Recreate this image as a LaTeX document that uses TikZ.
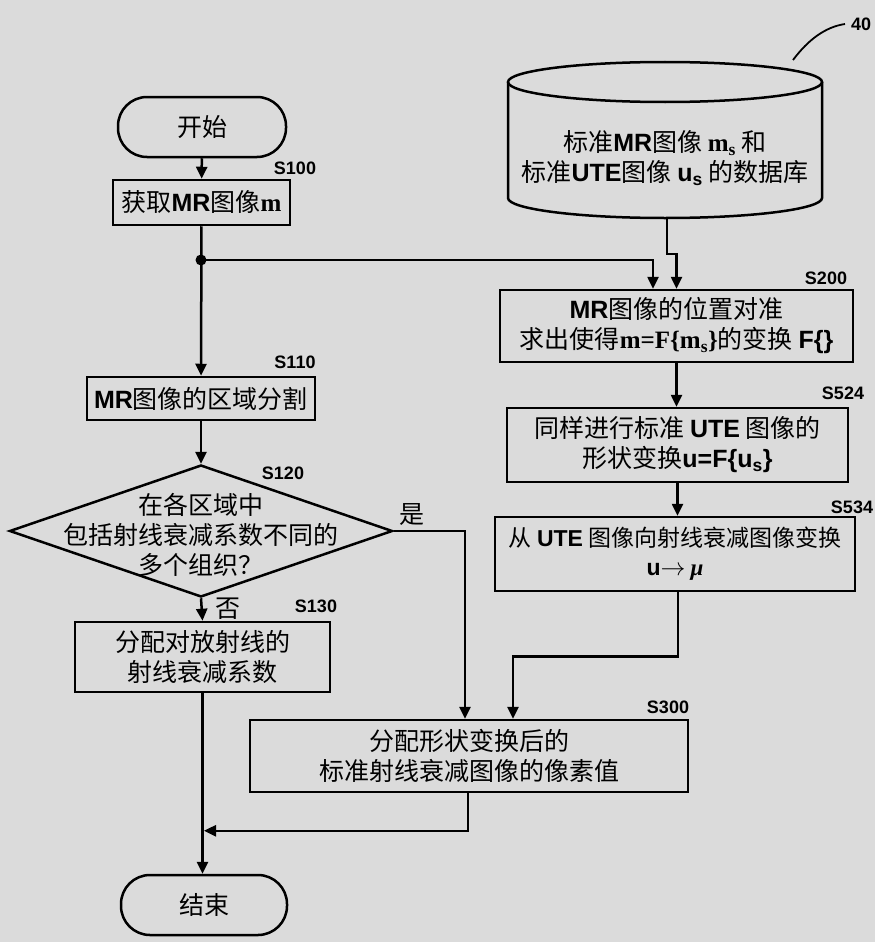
\documentclass[tikz,border=0pt]{standalone}
\usepackage{fontspec}
\setmainfont{Noto Sans CJK SC}
\newfontfamily\lsans{Liberation Sans}
\newfontfamily\lserif{Liberation Serif}
\usetikzlibrary{shapes.geometric,arrows.meta,calc}
\newcommand\B[1]{{\lsans\bfseries #1}}
\newcommand\SB[1]{{\lserif\bfseries #1}}
\begin{document}
\begin{tikzpicture}[x=1pt,y=-1pt, line width=2.5pt,
  txt/.style={align=center, inner sep=0pt, font=\fontsize{25}{30}\selectfont},
  box/.style={txt, draw, rectangle},
  term/.style={txt, draw, rectangle, rounded corners=29pt},
  arr/.style={-{Triangle[length=12pt,width=11pt]}},
  lab/.style={inner sep=0pt, font=\lsans\bfseries\fontsize{18}{18}\selectfont}]
\fill[black!14] (0,0) rectangle (875,942);
\useasboundingbox (0,0) rectangle (875,942);

% left column
\node[term, minimum width=168pt, minimum height=60pt] (start) at (202,127) {开始};
\node[box, minimum width=177pt, minimum height=45pt] (s100) at (201.5,202.5) {获取\B{MR}图像\SB{m}};
\node[box, minimum width=228pt, minimum height=43pt] (s110) at (201,398.5) {\B{MR}图像的区域分割};
\node[draw, diamond, minimum width=383pt, minimum height=132pt, inner sep=0pt] (d) at (201,531) {};
\node[txt] (dt) at (201,535) {在各区域中\\包括射线衰减系数不同的\\多个组织？};
\node[box, minimum width=255pt, minimum height=70pt] (s130) at (202.5,657) {分配对放射线的\\射线衰减系数};
\node[term, minimum width=166pt, minimum height=60pt] (end) at (204,905) {结束};

% database
\draw (665,82) ellipse [x radius=157, y radius=20];
\draw (508,82) -- (508,198) arc[start angle=180, end angle=0, x radius=157, y radius=20] -- (822,82);
\node[txt] (db) at (665,158) {标准\B{MR}图像 \SB{m\textsubscript{s}} 和\\标准\B{UTE}图像 \B{u\textsubscript{s}} 的数据库};
\coordinate (dbb) at (667,218);
\draw[line width=1.8pt] (793,60) .. controls (808,40) and (825,27) .. (845,24);
\node[lab] (n40) at (861,24) {40};

% right column
\node[box, minimum width=353pt, minimum height=72pt] (s200) at (676.5,326) {\B{MR}图像的位置对准\\求出使得\SB{m=F\{m\textsubscript{s}\}}的变换 \B{F\{\}}};
\node[box, minimum width=341pt, minimum height=74pt] (s524) at (677.5,445) {同样进行标准 \B{UTE} 图像的\\形状变换\B{u=F\{u\textsubscript{s}\}}};
\node[box, minimum width=360pt, minimum height=74pt, font=\fontsize{23}{29}\selectfont] (s534) at (675,554) {从 \B{UTE} 图像向射线衰减图像变换\\\B{u}$\rightarrow$ {\lserif\bfseries\itshape μ}};
\node[box, minimum width=438pt, minimum height=72pt] (s300) at (469,756) {分配形状变换后的\\标准射线衰减图像的像素值};

% step labels
\node[lab] at (295,168) {S100};
\node[lab] at (295,362) {S110};
\node[lab] at (283,473) {S120};
\node[lab] at (316,606) {S130};
\node[lab] at (826,278) {S200};
\node[lab] at (843,393) {S524};
\node[lab] at (852,507) {S534};
\node[lab] at (668,707) {S300};

% connectors
\coordinate (j) at (201,260);
\draw[arr] (start) -- (s100);
\draw[arr] (s100) -- (s110);
\fill (j) circle (5.5pt);
\draw[arr] (j) -| ([xshift=-23.5pt]s200.north);
\draw[arr] (dbb) |- ([yshift=35pt]s200.north) -- (s200.north);
\draw[arr] (s110) -- (d.north);
\draw[arr] (d.south) -- (s130.north);
\node[txt, anchor=west] at (214,609) {否};
\draw[arr] (d.east) -| ([xshift=-4pt]s300.north);
\node[txt] at (412,515) {是};
\draw[arr] (s200.south) -- (s200.south |- s524.north);
\draw[arr] (s524.south) -- (s524.south |- s534.north);
\draw[arr] ([xshift=3pt]s534.south) -- ++(0,64) -| ([xshift=44pt]s300.north);
\draw[arr] (s130.south) -- (s130.south |- end.north);
\draw[arr] ([xshift=-1pt]s300.south) |- ([yshift=43pt]end.north);
\end{tikzpicture}
\end{document}
